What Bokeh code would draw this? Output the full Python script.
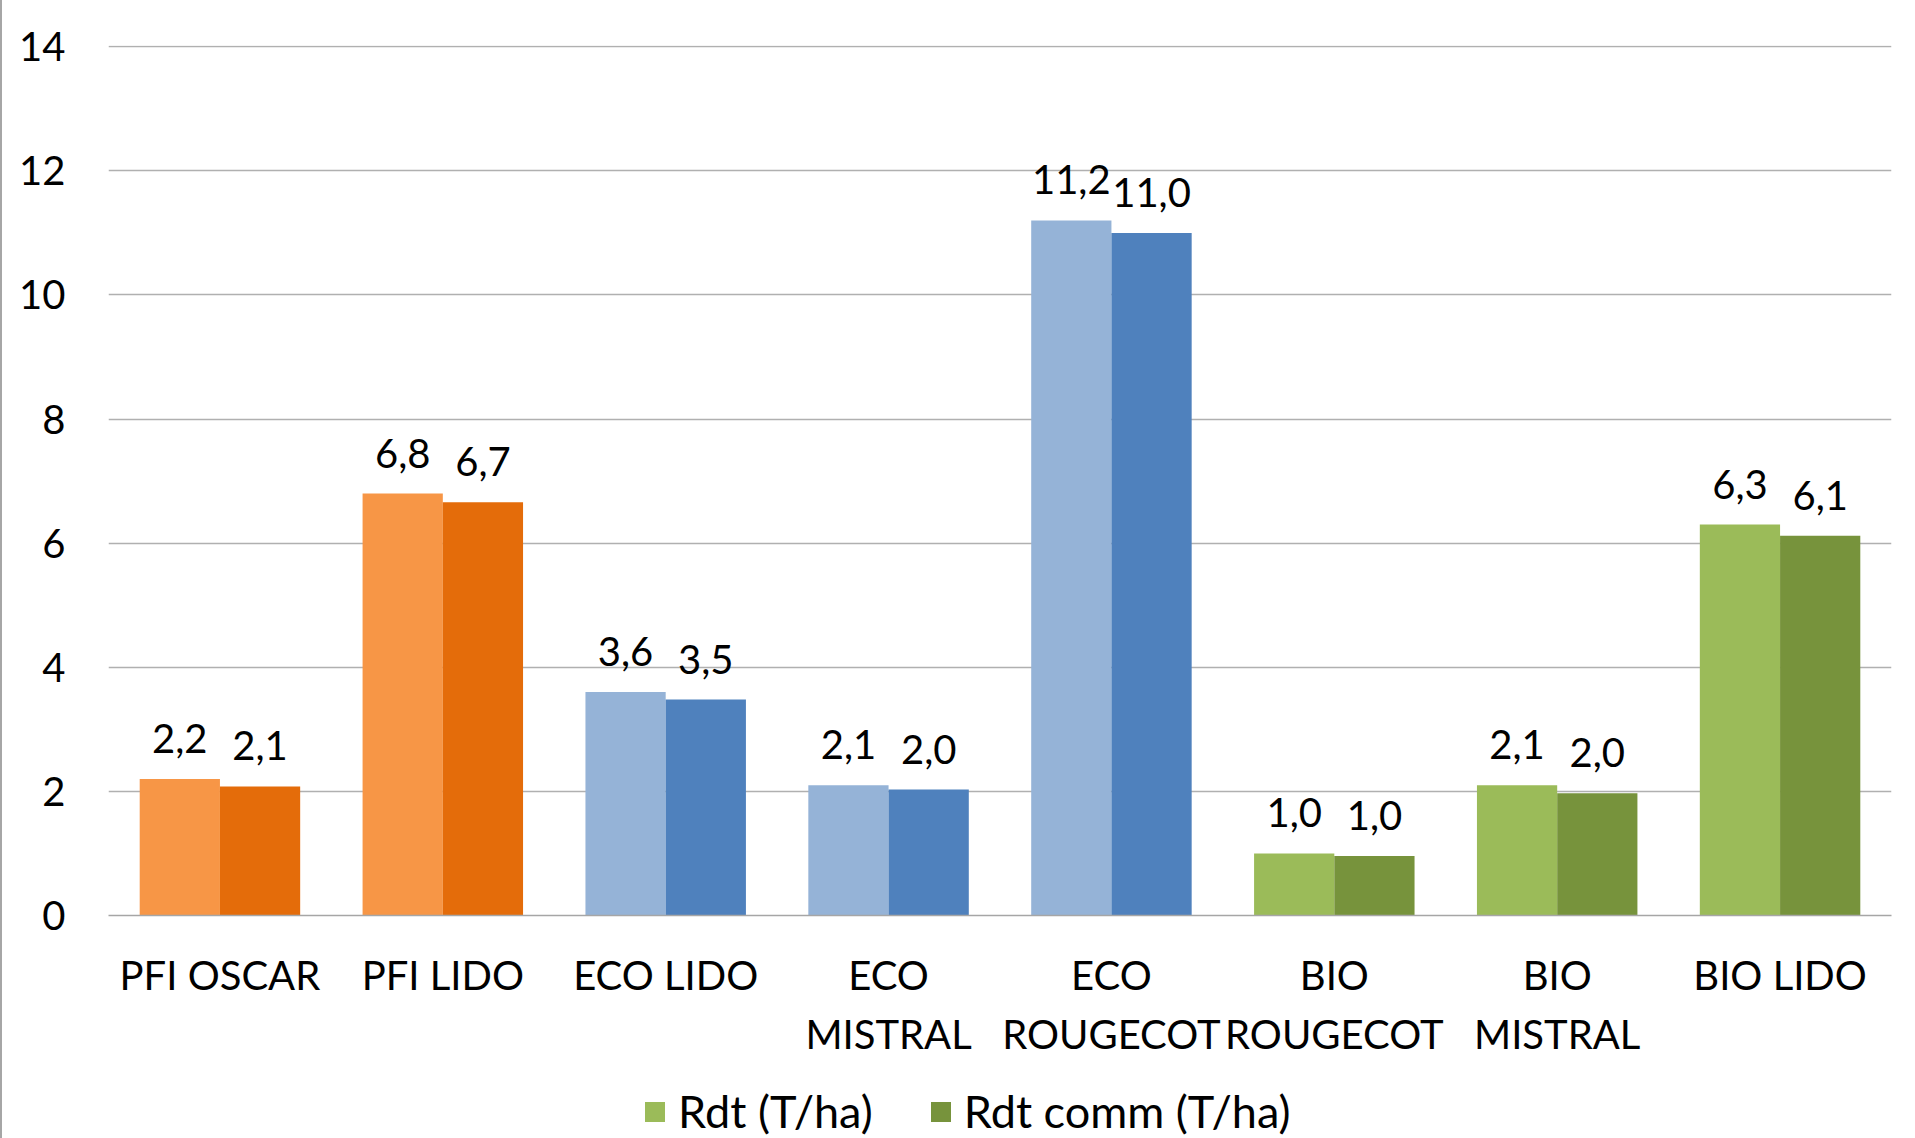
from bokeh.plotting import figure
from bokeh.models import ColumnDataSource, FactorRange, Range1d, LabelSet, Legend, LegendItem, FixedTicker
from bokeh.layouts import column
from bokeh.transform import dodge
from bokeh.core.properties import value
from bokeh.embed import file_html
from bokeh.resources import INLINE

categories = ["PFI OSCAR", "PFI LIDO", "ECO LIDO", "ECO\nMISTRAL", "ECO\nROUGECOT",
              "BIO\nROUGECOT", "BIO\nMISTRAL", "BIO LIDO"]
rdt = [2.2, 6.8, 3.6, 2.1, 11.2, 1.0, 2.1, 6.3]
rdt_comm = [2.08, 6.66, 3.48, 2.03, 11.0, 0.96, 1.97, 6.12]
series_names = ["Rdt (T/ha)", "Rdt comm (T/ha)"]
light_colors = ["#F79646", "#F79646", "#95B3D7", "#95B3D7", "#95B3D7", "#9BBB59", "#9BBB59", "#9BBB59"]
dark_colors = ["#E46C0A", "#E46C0A", "#4F81BD", "#4F81BD", "#4F81BD", "#77933C", "#77933C", "#77933C"]
y_ticks = [0, 2, 4, 6, 8, 10, 12, 14]

FONT = "Lato"
FS = "40px"

def fmt(v):
    return ("%.1f" % v).replace(".", ",")

src = ColumnDataSource(dict(
    cat=categories,
    rdt=rdt, comm=rdt_comm,
    rdt_lbl=[fmt(v) for v in rdt], comm_lbl=[fmt(v) for v in rdt_comm],
    c1=light_colors, c2=dark_colors,
))

W = 0.36

p = figure(width=1897, height=1061, x_range=FactorRange(*categories, range_padding=0, factor_padding=0),
           y_range=Range1d(0, 14.02), output_backend="svg", toolbar_location=None,
           min_border_left=106, min_border_right=8, min_border_top=45, min_border_bottom=145)
p.outline_line_color = None

p.vbar(x=dodge("cat", -W / 2, range=p.x_range), top="rdt", width=W, fill_color="c1",
       line_color=None, source=src)
p.vbar(x=dodge("cat", W / 2, range=p.x_range), top="comm", width=W, fill_color="c2",
       line_color=None, source=src)

for col, lbl, off in [("rdt", "rdt_lbl", -W / 2), ("comm", "comm_lbl", W / 2)]:
    ls = LabelSet(x=dodge("cat", off, range=p.x_range), y=col, text=lbl, source=src,
                  text_align="center", text_baseline="alphabetic", y_offset=26,
                  text_font=value(FONT), text_font_size=value(FS), text_color="black")
    p.add_layout(ls)

p.xgrid.grid_line_color = None
p.ygrid.grid_line_color = "#B0B0B0"
p.ygrid.grid_line_width = 1.3
p.yaxis.ticker = FixedTicker(ticks=y_ticks)
p.yaxis.axis_line_color = None
p.yaxis.major_tick_line_color = None
p.yaxis.minor_tick_line_color = None
p.yaxis.major_label_standoff = 37
p.yaxis.major_label_text_font = FONT
p.yaxis.major_label_text_font_size = FS
p.yaxis.major_label_text_color = "black"

p.xaxis.axis_line_color = "#A6A6A6"
p.xaxis.axis_line_width = 1.5
p.xaxis.major_tick_line_color = None
p.xaxis.minor_tick_line_color = None
p.xaxis.major_label_standoff = 29
p.xaxis.major_label_text_font = FONT
p.xaxis.major_label_text_font_size = FS
p.xaxis.major_label_text_color = "black"
p.xaxis.major_label_text_line_height = 1.24

# legend strip below the chart (its bars sit outside the visible range)
lg = figure(width=1897, height=77, x_range=FactorRange(*categories), y_range=Range1d(100, 101),
            x_axis_type=None, y_axis_type=None,
            output_backend="svg", toolbar_location=None,
            min_border_left=0, min_border_right=0, min_border_top=0, min_border_bottom=0)
lg.outline_line_color = None
lg.grid.visible = False
lr1 = lg.vbar(x="cat", top="rdt", width=0.01, fill_color="c1", line_color=None, source=src)
lr2 = lg.vbar(x="cat", top="comm", width=0.01, fill_color="c2", line_color=None, source=src)

legend = Legend(items=[LegendItem(label=series_names[0], renderers=[lr1], index=7),
                       LegendItem(label=series_names[1], renderers=[lr2], index=7)],
                orientation="horizontal", location=(534, 0),
                glyph_width=25, glyph_height=25, label_standoff=11, spacing=55,
                padding=0, margin=0, border_line_color=None, background_fill_alpha=0,
                label_text_font=FONT, label_text_font_size="45px", label_text_color="black")
lg.add_layout(legend, "center")

layout = column(p, lg, spacing=0, styles={"border-left": "2px solid #A6A6A6"})
open("out.html", "w").write(file_html(layout, INLINE))
